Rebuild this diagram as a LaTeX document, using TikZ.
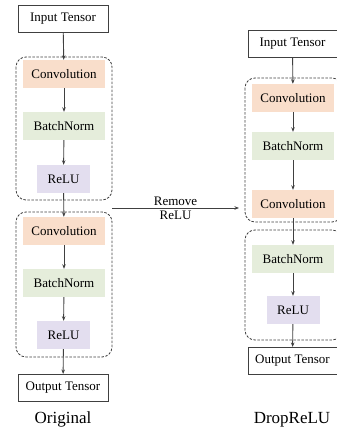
\documentclass[tikz,border=0pt]{standalone}
\usepackage{fontspec}
\setmainfont{Liberation Serif}
\usetikzlibrary{arrows.meta}
\definecolor{convc}{RGB}{249,222,203}
\definecolor{bnc}{RGB}{229,237,219}
\definecolor{reluc}{RGB}{227,222,239}
\definecolor{linec}{RGB}{64,64,64}
\tikzset{
  box/.style={minimum width=82pt, minimum height=28pt, inner sep=0pt, font=\fontsize{13}{15}\selectfont},
  conv/.style={box, fill=convc},
  bn/.style={box, fill=bnc},
  relu/.style={box, fill=reluc, minimum width=53pt},
  tensor/.style={box, draw=linec, line width=1pt, fill=white, minimum width=90pt, minimum height=27pt},
  grp/.style={draw=linec, dashed, dash pattern=on 2.5pt off 1.5pt, line width=0.8pt, rounded corners=10pt},
  flow/.style={draw=linec, line width=0.9pt, -{Stealth[length=4.5pt,width=3.5pt]}},
  captext/.style={font=\fontsize{17}{20}\selectfont},
  lbl/.style={font=\fontsize{13}{15}\selectfont, inner sep=2.5pt}
}
\begin{document}
\begin{tikzpicture}[x=1pt,y=-1pt]
\useasboundingbox (0,0) rectangle (337,432);
\clip (0,0) rectangle (337,432);
% left column
\draw[grp] (16,57) rectangle (112,200);
\draw[grp] (16,212) rectangle (112,357);
\node[tensor] (lin) at (63,18.5) {Input Tensor};
\node[conv] (lc1) at (64,74) {Convolution};
\node[bn] (lb1) at (64,126) {BatchNorm};
\node[relu] (lr1) at (63.5,179) {ReLU};
\node[conv] (lc2) at (64,231) {Convolution};
\node[bn] (lb2) at (64,283) {BatchNorm};
\node[relu] (lr2) at (63.5,335) {ReLU};
\node[tensor] (lout) at (63,388) {Output Tensor};
\node[captext] (lcap) at (63,419) {Original};
\draw[flow] (lin) -- (lc1);
\draw[flow] (lc1) -- (lb1);
\draw[flow] (lb1) -- (lr1);
\draw[flow] (lr1) -- (lc2);
\draw[flow] (lc2) -- (lb2);
\draw[flow] (lb2) -- (lr2);
\draw[flow] (lr2) -- (lout);
% right column
\draw[grp] (245,78) rectangle (342,222);
\draw[grp] (245,230) rectangle (342,340);
\node[tensor, minimum width=89pt] (rin) at (292.5,43.5) {Input Tensor};
\node[conv] (rc1) at (293,98) {Convolution};
\node[bn] (rb1) at (293,146) {BatchNorm};
\node[conv] (rc2) at (293,204) {Convolution};
\node[bn] (rb2) at (293,259) {BatchNorm};
\node[relu] (rr2) at (293,310) {ReLU};
\node[tensor, minimum width=89pt] (rout) at (292.5,361) {Output Tensor};
\node[captext] (rcap) at (292,420) {DropReLU};
\draw[flow] (rin) -- (rc1);
\draw[flow] (rc1) -- (rb1);
\draw[flow] (rb1) -- (rc2);
\draw[flow] (rc2) -- (rb2);
\draw[flow] (rb2) -- (rr2);
\draw[flow] (rr2) -- (rout);
% transform arrow
\coordinate (ta) at (112,208);
\coordinate (tb) at (239,208);
\draw[flow, line width=0.7pt] (ta) -- node[above, lbl] {Remove} node[below, lbl] {ReLU} (tb);
\end{tikzpicture}
\end{document}
